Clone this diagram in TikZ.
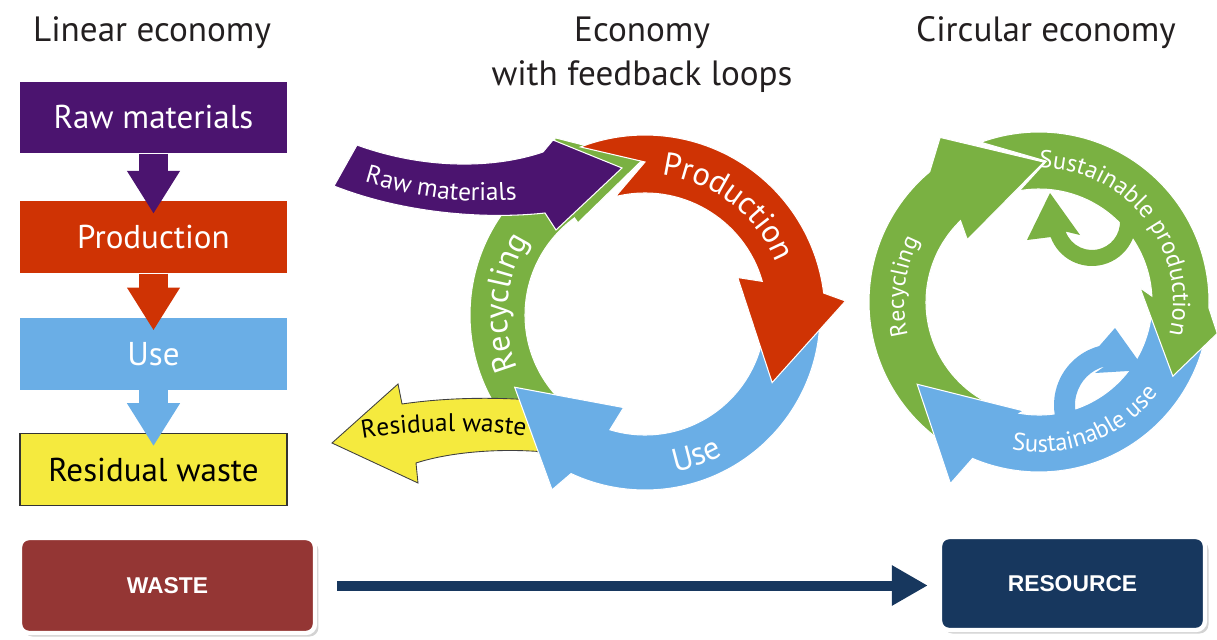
\documentclass[tikz,border=0pt]{standalone}
\usepackage{fontspec}
\setmainfont{PT Sans}
\newfontfamily\tagfont{Liberation Sans}
\usetikzlibrary{arrows.meta,positioning,shadows,decorations.text}

\definecolor{rawpurple}{HTML}{4B146F}
\definecolor{prodred}{HTML}{CF3304}
\definecolor{useblue}{HTML}{6AAEE6}
\definecolor{recgreen}{HTML}{7AB142}
\definecolor{wasteyellow}{HTML}{F5EA3E}
\definecolor{wastebrown}{HTML}{943634}
\definecolor{resnavy}{HTML}{17375E}
\definecolor{titlegray}{HTML}{231F20}

\newcommand\titlesize{\fontsize{20}{25}\selectfont}
\newcommand\boxsize{\fontsize{18.8}{22}\selectfont}

\tikzset{
  stage/.style={minimum width=5.34cm, minimum height=1.44cm, inner sep=0pt, text=white, font=\boxsize},
  flow/.style={line width=0.58cm, -{Triangle[length=0.86cm,width=1.0cm]}, shorten >=-0.26cm},
  piece/.style={draw=white, line width=0.6pt},
  tag/.style={minimum height=1.9cm, rounded corners=0.18cm, draw=white, line width=2.5pt,
    text=white, font=\tagfont\bfseries\fontsize{13}{15}\selectfont,
    drop shadow={shadow xshift=2pt, shadow yshift=-2pt, opacity=0.35}},
  link/.style={resnavy, line width=0.2cm, -{Triangle[length=0.72cm,width=0.76cm]}},
  ringtext/.style={decorate, decoration={text along path, text align=center, text color=white, text={#1}}}
}

\begin{document}
\begin{tikzpicture}[x=0.02cm, y=-0.02cm]
\useasboundingbox (0,0) rectangle (1217,639);

% titles
\node[font=\titlesize, text=titlegray] (tlin) at (152,33) {Linear economy};
\node[font=\titlesize, text=titlegray, align=center] (tloop) at (642,55) {Economy\\with feedback loops};
\node[font=\titlesize, text=titlegray] (tcirc) at (1046,33) {Circular economy};

% linear economy
\node[stage, fill=rawpurple] (raw) at (153.5,117.5) {Raw materials};
\node[stage, fill=prodred, below=0.94cm of raw] (prod) {Production};
\node[stage, fill=useblue, below=0.88cm of prod] (use) {Use};
\node[stage, fill=wasteyellow, draw=black!80, line width=0.6pt, text=black, below=0.86cm of use] (resid) {Residual waste};
\draw[flow, rawpurple] (raw.south) -- (prod.north);
\draw[flow, prodred] (prod.south) -- (use.north);
\draw[flow, useblue] (use.south) -- (resid.north);

% economy with feedback loops
\begin{scope}[shift={(645,315)}]
  \fill[recgreen, piece] (125:175) arc[start angle=125, end angle=240, radius=175] -- (243:199) -- (269:155)
    -- (234:114) -- (234:120) arc[start angle=234, end angle=125, radius=120] -- cycle;
\end{scope}
\fill[wasteyellow, draw=black!75, line width=0.5pt] (332,443) -- (398,384) -- (402,404)
  .. controls (450,397) and (500,397) .. (545,401) -- (545,452)
  .. controls (500,448) and (450,452) .. (416,463) -- (418,483) -- cycle;
\begin{scope}[shift={(645,315)}]
  \fill[useblue, piece] (-5:175) arc[start angle=-5, end angle=115, radius=175] -- (118:198) -- (151:149)
    -- (103:95) -- (107:120) arc[start angle=107, end angle=-5, radius=120] -- cycle;
  \fill[prodred, piece] (-111:180) arc[start angle=-111, end angle=-7, radius=180] -- (-4:201) -- (28:144)
    -- (-22:100) -- (-16:122) arc[start angle=-16, end angle=-104, radius=122] -- (-90:153) -- cycle;
  \path[ringtext={|\fontsize{18.5}{20}\selectfont|Production}] (-95:141) arc[start angle=-95, end angle=-10, radius=141];
  \path[ringtext={|\fontsize{18.5}{20}\selectfont|Recycling}] (150:138) arc[start angle=150, end angle=220, radius=138];
  \path[ringtext={|\fontsize{18.5}{20}\selectfont|Use}] (100:160) arc[start angle=100, end angle=40, radius=160];
\end{scope}
\fill[rawpurple, piece] (357,145) .. controls (420,168) and (490,170) .. (543,152) -- (553,140) -- (622,168)
  -- (556,230) -- (545,213) .. controls (480,220) and (400,212) .. (334,186) -- cycle;
\path[ringtext={|\fontsize{14.5}{16}\selectfont|Raw materials}] (352,178) .. controls (420,200) and (470,205) .. (530,198);
\path[decorate, decoration={text along path, text align=center, text={|\fontsize{14.5}{16}\selectfont|Residual waste}}]
  (356,440) .. controls (410,430) and (470,428) .. (532,437);

% circular economy
\begin{scope}[shift={(1039,302)}]
  \fill[recgreen, piece] (125:170) arc[start angle=125, end angle=230, radius=170] -- (239:192) -- (272:140)
    -- (221:95) -- (226:113) arc[start angle=226, end angle=114, radius=113] -- cycle;
  \fill[useblue, piece] (0:170) arc[start angle=0, end angle=113, radius=170] -- (116:202) -- (146:147)
    -- (98:110) -- (100:113) arc[start angle=100, end angle=0, radius=113] -- cycle;
  \fill[recgreen, piece] (250:170) arc[start angle=250, end angle=362, radius=170] -- (370:181) -- (389:153)
    -- (352:102) -- (357:113) arc[start angle=357, end angle=260, radius=113] -- (273:141) -- cycle;
  \path[ringtext={|\fontsize{14}{16}\selectfont|Sustainable production}] (-100:134) arc[start angle=-100, end angle=24, radius=134];
  \path[ringtext={|\fontsize{13.5}{16}\selectfont|Recycling}] (160:135) arc[start angle=160, end angle=213, radius=135];
  \path[ringtext={|\fontsize{14}{16}\selectfont|Sustainable use}] (110:150) arc[start angle=110, end angle=28, radius=150];
\end{scope}
\fill[recgreen] ([shift={(1092,222)}]-15:44) arc[start angle=-15, end angle=160, radius=44] -- (1027,240) -- (1050,193)
  -- (1080,235) -- ([shift={(1092,222)}]160:28) arc[start angle=160, end angle=-15, radius=28] -- cycle;
\fill[useblue] ([shift={(1115,405)}]160:61) arc[start angle=160, end angle=255, radius=61] -- (1115,328) -- (1145,370)
  -- (1095,373) -- ([shift={(1115,405)}]255:40) arc[start angle=255, end angle=160, radius=40] -- cycle;

% waste to resource
\node[tag, fill=wastebrown, minimum width=5.9cm] (waste) at (167.5,585.5) {WASTE};
\node[tag, fill=resnavy, minimum width=5.3cm, minimum height=1.86cm] (resource) at (1072.5,583.5) {RESOURCE};
\draw[link, shorten <=0.4cm, shorten >=0.2cm] (waste.east) -- (waste.east -| resource.west);
\end{tikzpicture}
\end{document}
